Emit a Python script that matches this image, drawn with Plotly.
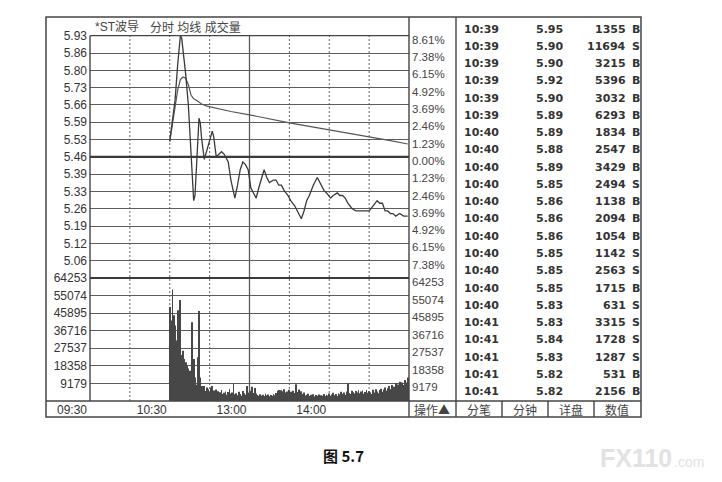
import plotly.graph_objects as go

W, H = 722, 482


def X(px):
    return px / W


def Y(py):
    return 1 - py / H


# ---------------- data ----------------
stock_title = "*ST波导"
title_items = "分时 均线 成交量"
prev_close = 5.46
limit_pct = 8.61

price_tick_pcts = [8.61, 7.38, 6.15, 4.92, 3.69, 2.46, 1.23, 0.00,
                   -1.23, -2.46, -3.69, -4.92, -6.15, -7.38]
price_tick_labels = ["5.93", "5.86", "5.80", "5.73", "5.66", "5.59", "5.53",
                     "5.46", "5.39", "5.33", "5.26", "5.19", "5.12", "5.06"]
pct_tick_labels = ["8.61%", "7.38%", "6.15%", "4.92%", "3.69%", "2.46%", "1.23%",
                   "0.00%", "1.23%", "2.46%", "3.69%", "4.92%", "6.15%", "7.38%"]

vol_ticks = [9179, 18358, 27537, 36716, 45895, 55074, 64253]
vol_tick_labels = ["9179", "18358", "27537", "36716", "45895", "55074", "64253"]

time_ticks = [0, 60, 120, 180]
time_labels = ["09:30", "10:30", "13:00", "14:00"]
grid_dotted = [30, 60, 90, 150, 180, 210]
grid_solid = [120]

# minute index (0 = 09:30, 240 = 15:00) and price
price_minutes = [60, 62, 64, 66, 67, 68, 69, 70, 71, 72, 74, 76, 78, 79, 80, 82, 83, 84,
                 86, 88, 90, 92, 93, 95, 97, 99, 101, 104, 106, 109, 111, 113, 115, 117,
                 119, 121, 123, 125, 127, 129, 131, 133, 135, 138, 140, 142, 144, 146,
                 149, 151, 154, 156, 159, 161, 163, 165, 168, 171, 173, 176, 178, 181,
                 183, 186, 188, 190, 192, 194, 197, 200, 203, 206, 210, 213, 216, 218,
                 220, 222, 224, 226, 228, 230, 233, 236, 239]
prices = [5.52, 5.60, 5.68, 5.82, 5.88, 5.93, 5.92, 5.88, 5.84, 5.78, 5.66, 5.47, 5.29,
          5.31, 5.41, 5.61, 5.59, 5.53, 5.45, 5.49, 5.52, 5.56, 5.54, 5.46, 5.47, 5.48,
          5.47, 5.44, 5.37, 5.30, 5.35, 5.41, 5.44, 5.43, 5.41, 5.34, 5.32, 5.30, 5.34,
          5.38, 5.41, 5.38, 5.36, 5.37, 5.37, 5.35, 5.35, 5.33, 5.31, 5.29, 5.27, 5.25,
          5.22, 5.25, 5.29, 5.31, 5.35, 5.38, 5.36, 5.33, 5.32, 5.30, 5.31, 5.32, 5.31,
          5.31, 5.30, 5.28, 5.26, 5.25, 5.25, 5.25, 5.25, 5.27, 5.29, 5.28, 5.28, 5.25,
          5.25, 5.24, 5.24, 5.23, 5.24, 5.23, 5.23]

avg_minutes = [60, 63, 66, 68, 70, 72, 74, 76, 78, 80, 84, 88, 94, 100, 106, 120, 135,
               150, 165, 180, 195, 210, 225, 239]
avg_prices = [5.52, 5.62, 5.72, 5.76, 5.77, 5.765, 5.74, 5.70, 5.685, 5.68, 5.665,
              5.657, 5.65, 5.643, 5.636, 5.623, 5.607, 5.592, 5.578, 5.565, 5.552,
              5.539, 5.524, 5.51]

vol_minutes = list(range(60, 240))
volumes = [
    49100, 42100, 58300, 44800, 39500, 31600, 47400, 28600, 52700, 24000,
    26300, 22000, 20200, 18400, 17000, 15800, 13200, 41200, 22000, 12300,
    8500, 22800, 47000, 12300, 7900, 6500, 7900, 5200, 7000, 6200,
    4800, 7000, 7900, 5500, 4200, 6000, 5100, 3800, 4600, 5800,
    3600, 4300, 5000, 3200, 4700, 6100, 3900, 4400, 9100, 3500,
    4000, 3000, 4800, 3700, 2800, 5200, 4100, 3300, 7900, 4500,
    3600, 5400, 7400, 4200, 6800, 3900, 3100, 2700, 3500, 2900,
    3300, 2600, 3800, 2900, 3400, 2500, 3100, 2800, 3600, 3000,
    4200, 5300, 5800, 4600, 5600, 5100, 6200, 4400, 5000, 3900,
    5900, 4800, 3700, 5300, 4200, 8800, 4700, 6000, 4300, 5100,
    3600, 4400, 2900, 3300, 3800, 2600, 3200, 2900, 3500, 2400,
    3100, 2800, 3400, 2500, 3000, 2700, 3600, 2600, 3300, 2900,
    3900, 2800, 3400, 4300, 3000, 3700, 2600, 4100, 3500, 4800,
    3800, 4500, 3300, 5000, 9100, 4200, 3600, 5300, 4600, 3900,
    5200, 4400, 5600, 4100, 4900, 5500, 3800, 4700, 5800, 4300,
    5100, 4600, 3700, 5900, 4500, 6200, 5000, 4100, 5700, 6400,
    4800, 6000, 7100, 5400, 6600, 7900, 6100, 8300, 6900, 7500,
    9300, 7200, 8600, 10100, 7800, 9600, 8400, 11000, 9700, 12300,
]

trade_times = ["10:39"] * 6 + ["10:40"] * 11 + ["10:41"] * 5
trade_prices = ["5.95", "5.90", "5.90", "5.92", "5.90", "5.89", "5.89", "5.88", "5.89",
                "5.85", "5.86", "5.86", "5.86", "5.85", "5.85", "5.85", "5.83", "5.83",
                "5.84", "5.83", "5.82", "5.82"]
trade_vols = ["1355", "11694", "3215", "5396", "3032", "6293", "1834", "2547", "3429",
              "2494", "1138", "2094", "1054", "1142", "2563", "1715", "631", "3315",
              "1728", "1287", "531", "2156"]
trade_sides = ["B", "S", "B", "B", "B", "B", "B", "B", "B", "S", "B", "B", "B", "S",
               "S", "B", "S", "S", "S", "S", "B", "B"]

buttons = ["操作▲", "分笔", "分钟", "详盘", "数值"]
caption = "图 5.7"

# ---------------- geometry (pixels) ----------------
PL, PR = 90, 409          # plot left / right
PT, PM, PB = 35.7, 278, 401   # price top, price/volume boundary, volume bottom
FL, FR, FT, FB = 46, 641, 17, 417
TL = 456

price_ticks = [prev_close * (1 + p / 100) for p in price_tick_pcts]
p_lo = prev_close * (1 - limit_pct / 100)
p_hi = prev_close * (1 + limit_pct / 100)

GRID = "#5c5c5c"
TXT = "#333333"
LBL_FONT = dict(family="Liberation Sans, Arial", size=12, color=TXT)
R_FONT = dict(family="Liberation Sans, Arial", size=11.5, color="#444444")

fig = go.Figure()

fig.add_trace(go.Bar(x=vol_minutes, y=volumes, xaxis="x2", yaxis="y2",
                     marker=dict(color="#474747", line=dict(width=0)), width=0.62,
                     hoverinfo="skip"))
fig.add_trace(go.Scatter(x=avg_minutes, y=avg_prices, xaxis="x", yaxis="y", mode="lines",
                         line=dict(color="#555555", width=1.2), hoverinfo="skip"))
fig.add_trace(go.Scatter(x=price_minutes, y=prices, xaxis="x", yaxis="y", mode="lines",
                         line=dict(color="#3a3a3a", width=1.3), hoverinfo="skip"))
# helper traces so the right-hand axes are drawn
fig.add_trace(go.Scatter(x=[0], y=[prev_close], xaxis="x", yaxis="y3", mode="markers",
                         marker=dict(opacity=0), hoverinfo="skip"))
fig.add_trace(go.Scatter(x=[0], y=[0], xaxis="x2", yaxis="y4", mode="markers",
                         marker=dict(opacity=0), hoverinfo="skip"))

xdom = [X(PL), X(PR)]
common = dict(showline=False, zeroline=False, fixedrange=True, automargin=False)

fig.update_layout(
    template="none",
    width=W, height=H,
    margin=dict(l=0, r=0, t=0, b=0, pad=0, autoexpand=False),
    paper_bgcolor="white", plot_bgcolor="white",
    showlegend=False, hovermode=False,
    font=dict(family="Liberation Sans, Arial", color=TXT),
    xaxis=dict(domain=xdom, range=[0, 240], anchor="y", showticklabels=False,
               showgrid=False, **common),
    xaxis2=dict(domain=xdom, range=[0, 240], anchor="y2", tickmode="array",
                tickvals=time_ticks, ticktext=time_labels, ticks="",
                ticklabelshift=-18, ticklabelstandoff=0, showgrid=False,
                tickfont=LBL_FONT, **common),
    yaxis=dict(domain=[Y(PM), Y(PT)], range=[p_lo, p_hi * 1.000002], anchor="x",
               tickmode="array", tickvals=price_ticks, ticktext=price_tick_labels,
               ticks="", ticklabelstandoff=2, showgrid=True, gridcolor=GRID,
               gridwidth=1.2, tickfont=LBL_FONT, **common),
    yaxis3=dict(overlaying="y", side="right", anchor="x", range=[p_lo, p_hi * 1.000002],
                tickmode="array", tickvals=price_ticks, ticktext=pct_tick_labels,
                ticks="", ticklabelshift=4, ticklabelstandoff=2, showgrid=False,
                tickfont=R_FONT, **common),
    yaxis2=dict(domain=[Y(PB), Y(PM)], range=[0, vol_ticks[-1] * 1.00001], anchor="x2",
                tickmode="array", tickvals=vol_ticks, ticktext=vol_tick_labels,
                ticks="", ticklabelstandoff=2, showgrid=True, gridcolor=GRID,
                gridwidth=1.2, tickfont=LBL_FONT, **common),
    yaxis4=dict(overlaying="y2", side="right", anchor="x2",
                range=[0, vol_ticks[-1] * 1.00001], tickmode="array",
                tickvals=vol_ticks, ticktext=vol_tick_labels, ticks="",
                ticklabelshift=4, ticklabelstandoff=2, showgrid=False,
                tickfont=R_FONT, **common),
)

shapes = []
# vertical time grid
for m in grid_dotted:
    shapes.append(dict(type="line", xref="x", yref="paper", x0=m, x1=m,
                       y0=Y(PB), y1=Y(PT), layer="below",
                       line=dict(color="#666666", width=1, dash="2px,2px")))
for m in grid_solid:
    shapes.append(dict(type="line", xref="x", yref="paper", x0=m, x1=m,
                       y0=Y(PB), y1=Y(PT), layer="below",
                       line=dict(color=GRID, width=1.3)))


def pline(x0, y0, x1, y1, w=1.4, color="#444444"):
    return dict(type="line", xref="paper", yref="paper", x0=X(x0), y0=Y(y0),
                x1=X(x1), y1=Y(y1), line=dict(color=color, width=w))


shapes += [
    dict(type="rect", xref="paper", yref="paper", x0=X(FL), x1=X(FR), y0=Y(FB), y1=Y(FT),
         line=dict(color="#444444", width=1.5)),
    pline(PL, PT, PL, PB),
    pline(PR, FT, PR, FB),
    pline(TL, FT, TL, FB),
    pline(PL, PT, PR, PT, 1.3),
    pline(PL, PM, PR, PM, 2.2, "#3a3a3a"),
    pline(FL, PB, FR, PB, 1.5),
    pline(502, PB, 502, FB),
    pline(548, PB, 548, FB),
    pline(594, PB, 594, FB),
    dict(type="line", xref="paper", yref="y", x0=X(PL), x1=X(PR), y0=prev_close,
         y1=prev_close, line=dict(color="#3a3a3a", width=2.2)),
]
fig.update_layout(shapes=shapes)

ann = []
TITLE_FONT = dict(family="Liberation Sans, Noto Sans CJK SC", size=12, color="#444444")
ann.append(dict(text=stock_title, x=X(93), y=Y(27), xref="paper", yref="paper",
                xanchor="left", yanchor="middle", showarrow=False, font=TITLE_FONT))
ann.append(dict(text=title_items, x=X(148), y=Y(27), xref="paper", yref="paper",
                xanchor="left", yanchor="middle", showarrow=False, font=TITLE_FONT))

TBL_FONT = dict(family="DejaVu Sans", size=11, color="#333333")
for i in range(len(trade_times)):
    yy = Y(29 + i * 17.27)
    ann.append(dict(text="<b>%s</b>" % trade_times[i], x=X(462), y=yy, xref="paper",
                    yref="paper", xanchor="left", yanchor="middle", showarrow=False,
                    font=TBL_FONT))
    ann.append(dict(text="<b>%s</b>" % trade_prices[i], x=X(565), y=yy, xref="paper",
                    yref="paper", xanchor="right", yanchor="middle", showarrow=False,
                    font=TBL_FONT))
    ann.append(dict(text="<b>%s</b>" % trade_vols[i], x=X(628), y=yy, xref="paper",
                    yref="paper", xanchor="right", yanchor="middle", showarrow=False,
                    font=TBL_FONT))
    ann.append(dict(text="<b>%s</b>" % trade_sides[i], x=X(636), y=yy, xref="paper",
                    yref="paper", xanchor="center", yanchor="middle", showarrow=False,
                    font=TBL_FONT))

BTN_FONT = dict(family="Noto Sans CJK SC", size=12, color="#444444")
btn_x = [432, 479, 525, 571, 617]
for bx, bt in zip(btn_x, buttons):
    ann.append(dict(text=bt, x=X(bx), y=Y(409.5), xref="paper", yref="paper",
                    xanchor="center", yanchor="middle", showarrow=False, font=BTN_FONT))

ann.append(dict(text="<b>%s</b>" % caption, x=X(343), y=Y(455), xref="paper", yref="paper",
                xanchor="center", yanchor="middle", showarrow=False,
                font=dict(family="Noto Sans CJK SC", size=15, color="#111111")))
ann.append(dict(text="<b>FX110</b>", x=X(598), y=Y(458), xref="paper", yref="paper",
                xanchor="left", yanchor="middle", showarrow=False,
                font=dict(family="Liberation Sans", size=25, color="#e2e2e2")))
ann.append(dict(text=".com", x=X(672), y=Y(462), xref="paper", yref="paper",
                xanchor="left", yanchor="middle", showarrow=False,
                font=dict(family="Liberation Sans", size=14, color="#e2e2e2")))

fig.update_layout(annotations=ann)
fig.write_html("out.html", config={"displayModeBar": False},
               post_script="document.body.style.margin='0';document.body.style.padding='0';")
